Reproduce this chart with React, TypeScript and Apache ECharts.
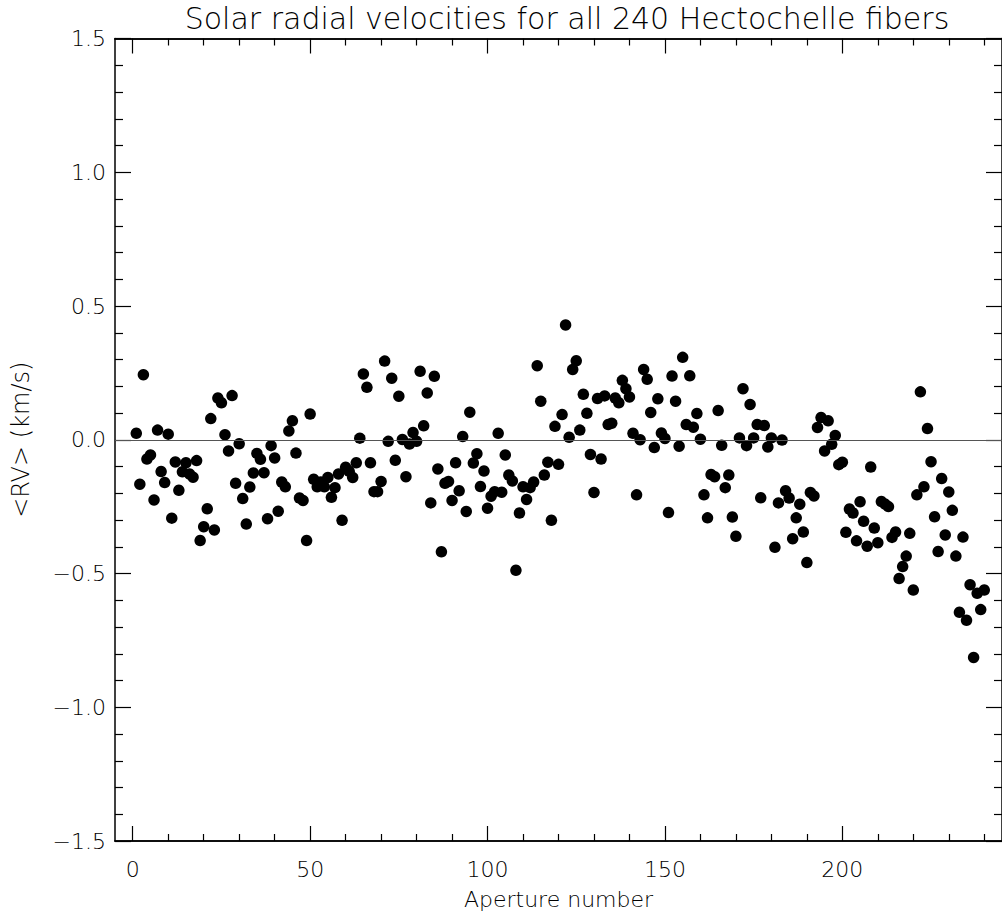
import React, { useEffect, useRef } from "react";
import * as echarts from "echarts";

const titleText = "Solar radial velocities for all 240 Hectochelle fibers";
const xName = "Aperture number";
const yName = "<RV> (km/s)";

// mean radial velocity per aperture (apertures 1..240), km/s
const apertureRV = [
  0.024, -0.166, 0.243, -0.072, -0.057, -0.225, 0.036, -0.119, -0.16, 0.021,
  -0.293, -0.083, -0.189, -0.12, -0.086, -0.128, -0.14, -0.078, -0.377, -0.325,
  -0.258, 0.079, -0.337, 0.156, 0.138, 0.019, -0.042, 0.165, -0.163, -0.015,
  -0.22, -0.315, -0.177, -0.124, -0.051, -0.073, -0.123, -0.295, -0.022, -0.068,
  -0.267, -0.158, -0.176, 0.033, 0.071, -0.05, -0.218, -0.227, -0.377, 0.096,
  -0.148, -0.176, -0.158, -0.176, -0.141, -0.215, -0.179, -0.128, -0.301, -0.103,
  -0.118, -0.141, -0.086, 0.006, 0.246, 0.196, -0.086, -0.194, -0.194, -0.156,
  0.294, -0.006, 0.23, -0.077, 0.163, 0.001, -0.138, -0.016, 0.027, -0.006,
  0.256, 0.052, 0.175, -0.236, 0.237, -0.109, -0.419, -0.163, -0.156, -0.227,
  -0.086, -0.191, 0.012, -0.268, 0.103, -0.087, -0.052, -0.175, -0.117, -0.256,
  -0.211, -0.194, 0.024, -0.196, -0.057, -0.132, -0.154, -0.488, -0.274, -0.176,
  -0.223, -0.179, -0.158, 0.277, 0.144, -0.132, -0.084, -0.301, 0.05, -0.092,
  0.094, 0.429, 0.009, 0.263, 0.295, 0.036, 0.17, 0.099, -0.055, -0.197,
  0.154, -0.072, 0.164, 0.057, 0.062, 0.156, 0.138, 0.222, 0.191, 0.16,
  0.024, -0.206, 0.0, 0.263, 0.226, 0.102, -0.029, 0.153, 0.025, 0.005,
  -0.272, 0.238, 0.144, -0.024, 0.308, 0.057, 0.239, 0.047, 0.098, 0.002,
  -0.206, -0.292, -0.13, -0.138, 0.109, -0.021, -0.179, -0.132, -0.289, -0.361,
  0.007, 0.191, -0.022, 0.132, 0.007, 0.057, -0.217, 0.053, -0.027, 0.007,
  -0.402, -0.236, -0.001, -0.191, -0.218, -0.37, -0.292, -0.241, -0.345, -0.459,
  -0.197, -0.21, 0.046, 0.083, -0.042, 0.071, -0.017, 0.016, -0.093, -0.084,
  -0.346, -0.259, -0.274, -0.378, -0.232, -0.305, -0.398, -0.102, -0.33, -0.385,
  -0.231, -0.24, -0.25, -0.365, -0.345, -0.519, -0.474, -0.435, -0.35, -0.562,
  -0.206, 0.179, -0.176, 0.042, -0.082, -0.288, -0.418, -0.145, -0.356, -0.195,
  -0.264, -0.435, -0.645, -0.364, -0.675, -0.542, -0.814, -0.574, -0.635, -0.562,
];

const xMajorTicks = [0, 50, 100, 150, 200];
const xMinorTicks = [10, 20, 30, 40, 60, 70, 80, 90, 110, 120, 130, 140, 160, 170, 180, 190, 210, 220, 230, 240];
const xRange = [-5, 245];
const yRange = [-1.5, 1.5];
const yStep = 0.5;

const FONT = "DejaVu Sans";

export default function App() {
  const ref = useRef<HTMLDivElement>(null);
  useEffect(() => {
    if (!ref.current) return;
    const chart = echarts.init(ref.current, null, { renderer: "svg" });
    const points = apertureRV.map((v, i) => [i + 1, v]);
    const axisLine = { show: true, onZero: false, lineStyle: { color: "#000", width: 1.5 } };
    const xAxisBase = (pos: string, ticks: number[], len: number, labels: boolean, name?: string) => ({
      type: "value",
      position: pos,
      min: xRange[0],
      max: xRange[1],
      axisLine: axisLine,
      splitLine: { show: false },
      axisTick: { show: true, inside: true, length: len, customValues: ticks, lineStyle: { color: "#000", width: 1.2 } },
      axisLabel: labels
        ? { show: true, customValues: xMajorTicks, color: "#000", fontSize: 22, fontFamily: FONT, fontWeight: 300, margin: 17 }
        : { show: false },
      name: name,
      nameLocation: "middle",
      nameGap: 47,
      nameTextStyle: { color: "#000", fontSize: 22, fontFamily: FONT, fontWeight: 300 },
    });
    const yAxisBase = (pos: string, labels: boolean, name?: string) => ({
      type: "value",
      position: pos,
      min: yRange[0],
      max: yRange[1],
      interval: yStep,
      axisLine: axisLine,
      splitLine: { show: false },
      axisTick: { show: true, inside: true, length: 16, lineStyle: { color: "#000", width: 1.2 } },
      minorTick: { show: true, splitNumber: 5, length: 8, lineStyle: { color: "#000", width: 1.2 } },
      axisLabel: labels
        ? {
            show: true,
            color: "#000",
            fontSize: 22,
            fontFamily: FONT,
            fontWeight: 300,
            margin: 9,
            formatter: (v: number) => v.toFixed(1).replace("-", "\u2212"),
          }
        : { show: false },
      name: name,
      nameLocation: "middle",
      nameGap: 82,
      nameRotate: 90,
      nameTextStyle: { color: "#000", fontSize: 24, fontFamily: FONT, fontWeight: 300 },
    });
    chart.setOption({
      animation: false,
      backgroundColor: "#fff",
      title: {
        text: titleText,
        left: 562,
        textAlign: "center",
        top: -2,
        textStyle: { color: "#000", fontSize: 30, fontWeight: 300, fontFamily: FONT },
      },
      grid: { left: 115, right: -3, top: 38.5, bottom: 70.5, containLabel: false },
      xAxis: [
        xAxisBase("bottom", xMajorTicks, 15, true, xName),
        xAxisBase("top", xMajorTicks, 15, false),
        xAxisBase("bottom", xMinorTicks, 7, false),
        xAxisBase("top", xMinorTicks, 7, false),
      ],
      yAxis: [yAxisBase("left", true, yName), yAxisBase("right", false)],
      series: [
        {
          type: "scatter",
          xAxisIndex: 0,
          yAxisIndex: 0,
          data: points,
          symbol: "circle",
          symbolSize: 11.5,
          itemStyle: { color: "#000", opacity: 1 },
          markLine: {
            silent: true,
            symbol: "none",
            label: { show: false },
            lineStyle: { color: "#555", width: 1, type: "solid" },
            data: [{ yAxis: 0 }],
          },
        },
      ],
    });
    return () => chart.dispose();
  }, []);
  return <div ref={ref} style={{ position: "fixed", left: 0, top: 0, width: 1002, height: 915 }} />;
}
